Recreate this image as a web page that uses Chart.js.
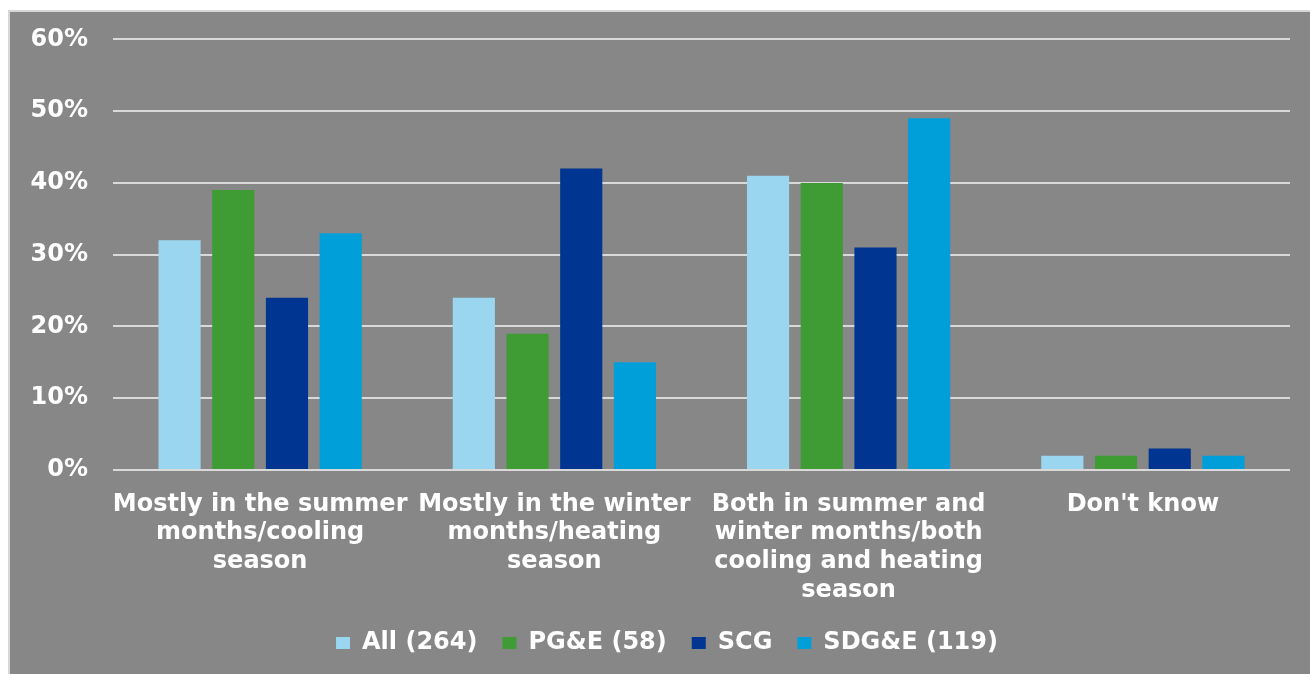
<!DOCTYPE html>
<html>
<head>
<meta charset="utf-8">
<script src="https://cdn.jsdelivr.net/npm/chart.js@4"></script>
<style>
  html, body { margin: 0; padding: 0; background: #fff; }
  #frame {
    position: absolute; left: 8px; top: 10px; width: 1302px; height: 664px;
    background: #878787; border-left: 2px solid #d6d6d6; border-top: 2px solid #d6d6d6;
    box-sizing: border-box;
  }
  #c { position: absolute; left: 0; top: 0; }
</style>
</head>
<body>
<div id="frame"></div>
<canvas id="c" width="1310" height="674"></canvas>
<script>
const categories = [
  ["Mostly in the summer", "months/cooling", "season"],
  ["Mostly in the winter", "months/heating", "season"],
  ["Both in summer and", "winter months/both", "cooling and heating", "season"],
  ["Don't know"],
];
const seriesNames = ["All (264)", "PG&E (58)", "SCG", "SDG&E (119)"];
const allValues = [32, 24, 41, 2];
const pgeValues = [39, 19, 40, 2];
const scgValues = [24, 42, 31, 3];
const sdgeValues = [33, 15, 49, 2];
const colors = ["#9bd6f0", "#3f9c35", "#003591", "#009fda"];
const yTicks = [0, 10, 20, 30, 40, 50, 60];

const font = "'DejaVu Sans', Verdana, sans-serif";

const datasets = [allValues, pgeValues, scgValues, sdgeValues].map((vals, i) => ({
  label: seriesNames[i],
  data: vals,
  backgroundColor: colors[i],
  borderWidth: 0,
  categoryPercentage: 0.73,
  barPercentage: 0.785,
}));

// nudge the legend row a bit to the right of the canvas centre
const legendShift = {
  id: "legendShift",
  afterLayout(chart) {
    chart.legend.left += 22;
    chart.legend.right += 22;
  },
};

new Chart(document.getElementById("c"), {
  type: "bar",
  data: { labels: categories, datasets },
  plugins: [legendShift],
  options: {
    responsive: false,
    animation: false,
    layout: { padding: { top: 39, right: 20, left: 0, bottom: 9 } },
    plugins: {
      tooltip: { enabled: false },
      legend: {
        position: "bottom",
        labels: {
          color: "#fff",
          font: { family: font, size: 24, weight: "bold" },
          boxWidth: 14,
          boxHeight: 12,
          padding: 25,
        },
      },
    },
    scales: {
      x: {
        grid: { display: false },
        border: { display: false },
        ticks: {
          color: "#fff",
          font: { family: font, size: 24, weight: "bold", lineHeight: 1.2 },
          padding: 12,
          maxRotation: 0,
          autoSkip: false,
        },
        afterFit: (s) => { s.height = 136; },
      },
      y: {
        min: yTicks[0],
        max: yTicks[yTicks.length - 1],
        afterBuildTicks: (s) => { s.ticks = yTicks.map((v) => ({ value: v })); },
        grid: { color: "#d9d9d9", lineWidth: 2, drawTicks: false },
        border: { display: false },
        ticks: {
          color: "#fff",
          font: { family: font, size: 24, weight: "bold" },
          padding: 25,
          callback: (v) => v + "%",
        },
        afterFit: (s) => { s.width = 113; },
      },
    },
  },
});
</script>
</body>
</html>
